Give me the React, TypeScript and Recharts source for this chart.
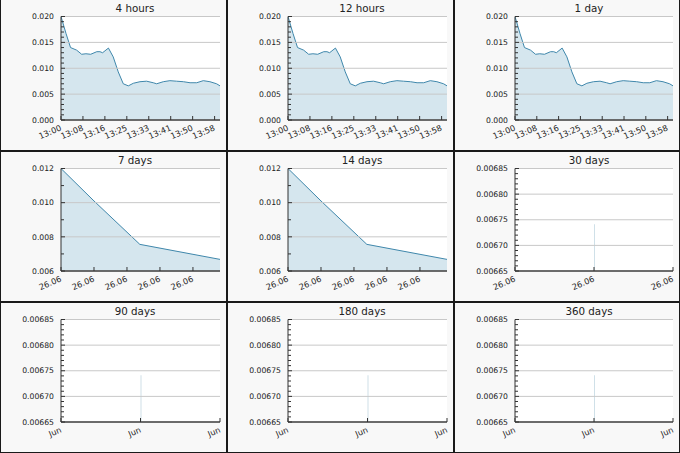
import { ComposedChart, Area, Bar, XAxis, YAxis, CartesianGrid, ReferenceLine } from 'recharts';

// short range panels (4 hours / 12 hours / 1 day): minutes after 13:00
const shortMinutes = [0, 1.9, 3.6, 5.9, 7.8, 9.4, 11.2, 13.5, 14.7, 15.7, 17.9, 19.7, 21.6, 23.5, 25.4, 27.3, 29.8, 32.3, 34.8, 36.1, 38.6, 41.1, 43.6, 46.2, 48.7, 51.2, 53.7, 56.2, 58.7, 60];
const shortValues = [0.02, 0.0167, 0.014, 0.0135, 0.0127, 0.0128, 0.0127, 0.0132, 0.0132, 0.013, 0.0139, 0.0122, 0.0093, 0.007, 0.0066, 0.0071, 0.0074, 0.0075, 0.0072, 0.007, 0.0074, 0.0076, 0.0075, 0.0074, 0.0072, 0.0072, 0.0076, 0.0074, 0.007, 0.0066];
const shortTicks = [0, 8.28, 16.56, 24.84, 33.12, 41.4, 49.68, 57.96];
const shortTickLabels = ['13:00', '13:08', '13:16', '13:25', '13:33', '13:41', '13:50', '13:58'];
const shortYTicks = [0, 0.005, 0.01, 0.015, 0.02];

// week panels (7 days / 14 days)
const weekX = [0, 1.0, 2.39, 4.82];
const weekValues = [0.012, 0.0101, 0.00756, 0.00668];
const weekTicks = [0, 1, 2, 3, 4];
const weekTickLabels = ['26.06', '26.06', '26.06', '26.06', '26.06'];
const weekYTicks = [0.006, 0.008, 0.01, 0.012];

// long range panels: a single sample
const longX = [1];
const longValues = [0.006741];
const longTicks = [0, 1, 2];
const monthTickLabels = ['26.06', '26.06', '26.06'];
const junTickLabels = ['Jun', 'Jun', 'Jun'];
const longYTicks = [0.00665, 0.0067, 0.00675, 0.0068, 0.00685];

const titles = ['4 hours', '12 hours', '1 day', '7 days', '14 days', '30 days', '90 days', '180 days', '360 days'];

const FONT = '"DejaVu Sans", sans-serif';
const LINE = '#3f87ab';
const FILL = '#d5e6ee';

const zip = (xs: number[], vs: number[]) => xs.map((t, i) => ({ t, v: vs[i] }));

const minorTicks = (lo: number, hi: number, step: number) => {
  const out: number[] = [];
  const n = Math.round((hi - lo) / step);
  for (let i = 0; i <= n; i++) out.push(+(lo + i * step).toFixed(7));
  return out;
};

type Panel = {
  data: { t: number; v: number }[];
  kind: 'area' | 'bar';
  xDomain: [number, number];
  xTicks: number[];
  xLabels: string[];
  yTicks: number[];
  yMinor: number;
  decimals: number;
};

const shortPanel: Panel = {
  data: zip(shortMinutes, shortValues), kind: 'area', xDomain: [0, 60],
  xTicks: shortTicks, xLabels: shortTickLabels, yTicks: shortYTicks, yMinor: 0.001, decimals: 3,
};
const weekPanel: Panel = {
  data: zip(weekX, weekValues), kind: 'area', xDomain: [0, 4.82],
  xTicks: weekTicks, xLabels: weekTickLabels, yTicks: weekYTicks, yMinor: 0.001, decimals: 3,
};
const monthPanel: Panel = {
  data: zip(longX, longValues), kind: 'bar', xDomain: [0, 2],
  xTicks: longTicks, xLabels: monthTickLabels, yTicks: longYTicks, yMinor: 0.00001, decimals: 5,
};
const yearPanel: Panel = { ...monthPanel, xLabels: junTickLabels };

const panels = [shortPanel, shortPanel, shortPanel, weekPanel, weekPanel, monthPanel, yearPanel, yearPanel, yearPanel];

const colLeft = [1, 228, 455];
const colWidth = [225, 225, 224];
const rowTop = [0, 152, 303];
const rowHeight = [150, 149, 149];

const MiniChart = ({ panel, title, width, height }: { panel: Panel; title: string; width: number; height: number }) => {
  const [lo, hi] = [panel.yTicks[0], panel.yTicks[panel.yTicks.length - 1]];
  const allY = minorTicks(lo, hi, panel.yMinor);
  const isMajor = (v: number) => panel.yTicks.some(m => Math.abs(m - v) < panel.yMinor / 10);

  const yTick = (props: any) => {
    const { x, y, payload } = props;
    const major = isMajor(payload.value);
    return (
      <g>
        <line x1={x} x2={x + (major ? 4 : 3)} y1={y} y2={y} stroke="#333" strokeWidth={1} />
        {major && (
          <text x={x - 7} y={y} dy="0.35em" textAnchor="end" fontSize={7.7} fontFamily={FONT} fill="#222">
            {payload.value.toFixed(panel.decimals)}
          </text>
        )}
      </g>
    );
  };

  const xTick = (props: any) => {
    const { x, y, payload } = props;
    const idx = panel.xTicks.findIndex(t => Math.abs(t - payload.value) < 1e-6);
    const tx = x + 1;
    const ty = y + 10;
    return (
      <g>
        <line x1={x} x2={x} y1={y} y2={y - 4} stroke="#333" strokeWidth={1} />
        <text x={tx} y={ty} textAnchor="end" fontSize={8.2} fontFamily={FONT} fill="#222" transform={`rotate(-23 ${tx} ${ty})`}>
          {panel.xLabels[idx]}
        </text>
      </g>
    );
  };

  return (
    <div style={{ position: 'relative', width, height }}>
      <ComposedChart width={width} height={height} data={panel.data} margin={{ top: 16.5, right: 6, left: 0, bottom: 0 }}>
        <CartesianGrid horizontal={false} vertical={false} fill="#ffffff" />
        <XAxis
          dataKey="t"
          type="number"
          domain={panel.xDomain}
          ticks={panel.xTicks}
          allowDataOverflow
          interval={0}
          height={30}
          tickSize={0}
          tickMargin={0}
          tickLine={false}
          axisLine={{ stroke: '#444', strokeWidth: 1.5 }}
          tick={xTick}
        />
        <YAxis
          type="number"
          domain={[lo, hi]}
          ticks={allY}
          allowDataOverflow
          interval={0}
          width={60}
          tickSize={0}
          tickMargin={0}
          tickLine={false}
          axisLine={{ stroke: '#333' }}
          tick={yTick}
        />
        {panel.kind === 'area' ? (
          <Area type="linear" dataKey="v" stroke={LINE} strokeWidth={1} fill={FILL} fillOpacity={1} isAnimationActive={false} />
        ) : (
          <Bar dataKey="v" barSize={1} fill="#cfe0e8" isAnimationActive={false} />
        )}
        {panel.yTicks.map(v => (
          <ReferenceLine key={v} y={v} stroke="#c8c8c8" strokeWidth={1} />
        ))}
      </ComposedChart>
      <div
        style={{
          position: 'absolute', top: 2, left: 134, transform: 'translateX(-50%)', whiteSpace: 'nowrap',
          fontFamily: FONT, fontSize: 10.3, color: '#222', lineHeight: '12px',
        }}
      >
        {title}
      </div>
    </div>
  );
};

export default function App() {
  return (
    <div style={{ position: 'absolute', left: 0, top: 0, width: 680, height: 453, background: '#1a1a1a' }}>
      {panels.map((p, i) => {
        const r = Math.floor(i / 3);
        const c = i % 3;
        return (
          <div
            key={i}
            style={{
              position: 'absolute', left: colLeft[c], top: rowTop[r], width: colWidth[c], height: rowHeight[r],
              background: '#f8f8f8', overflow: 'hidden',
            }}
          >
            <MiniChart panel={p} title={titles[i]} width={colWidth[c]} height={rowHeight[r]} />
          </div>
        );
      })}
    </div>
  );
}
